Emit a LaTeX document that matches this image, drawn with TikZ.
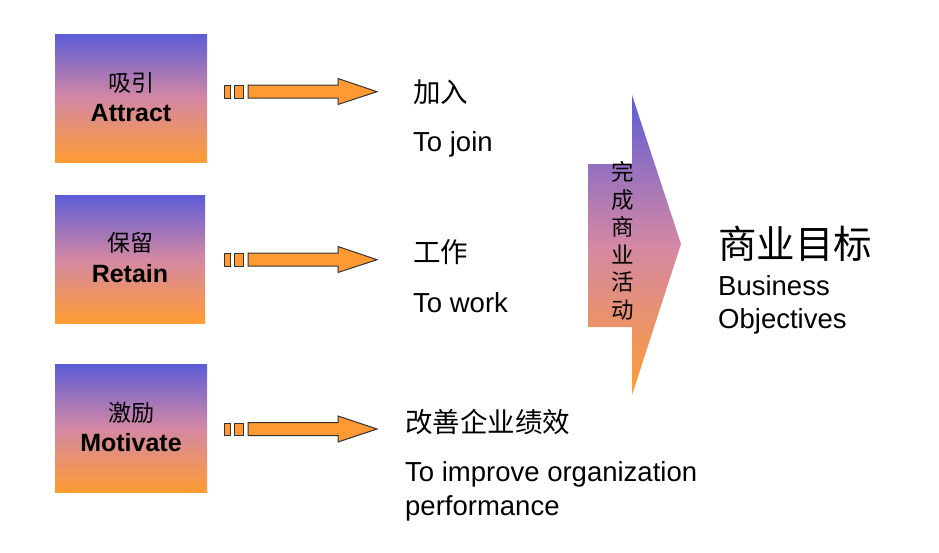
\documentclass[tikz,border=0pt]{standalone}
\usepackage{fontspec}
\setmainfont{Liberation Sans}
\newfontfamily\cjk{Noto Sans CJK SC}
\usepackage{tikz}

\definecolor{topblue}{RGB}{92,92,214}
\definecolor{midpink}{RGB}{212,136,164}
\definecolor{botorange}{RGB}{255,156,52}
\definecolor{arroworange}{RGB}{255,153,51}

\begin{document}
\begin{tikzpicture}[x=1pt, y=-1pt,
  gradbox/.style={minimum width=152pt, minimum height=128pt, inner sep=0,
    top color=topblue, bottom color=botorange, middle color=midpink},
  boxcjk/.style={font=\cjk\fontsize{23}{27}\selectfont, inner sep=0},
  boxword/.style={anchor=base, font=\bfseries\fontsize{25}{30}\selectfont, inner sep=0},
  cjktext/.style={anchor=west, font=\cjk\fontsize{27.5}{32}\selectfont, inner sep=0},
  entext/.style={anchor=base west, font=\fontsize{27.5}{32}\selectfont, inner sep=0},
  blockarrow/.style={fill=arroworange, draw=black!80, line width=1pt, line join=miter}]
\useasboundingbox (0,0) rectangle (939,552);

% boxes on the left
\node[gradbox] (attract) at (131,98) {};
\node[boxcjk] (attractcn) at (131,83) {吸引};
\node[boxword] (attracten) at (131,121.7) {Attract};

\node[gradbox, minimum width=150pt] (retain) at (130,259) {};
\node[boxcjk] (retaincn) at (130,243) {保留};
\node[boxword] (retainen) at (130,282.7) {Retain};

\node[gradbox] (motivate) at (131,428) {};
\node[boxcjk] (motivatecn) at (131,413) {激励};
\node[boxword] (motivateen) at (131,451.7) {Motivate};

% block arrows
\draw[blockarrow] (224,85.5) rectangle (230,98);
\draw[blockarrow] (234,85.5) rectangle (243,98);
\draw[blockarrow] (248,85) -- (338,85) -- (338,78.5) -- (377,91.7) -- (338,104.5) -- (338,98) -- (248,98) -- cycle;

\draw[blockarrow] (224,253.5) rectangle (230,266);
\draw[blockarrow] (234,253.5) rectangle (243,266);
\draw[blockarrow] (248,253) -- (338,253) -- (338,246.5) -- (377,259.7) -- (338,272.5) -- (338,266) -- (248,266) -- cycle;

\draw[blockarrow] (224,423) rectangle (230,435.5);
\draw[blockarrow] (234,423) rectangle (243,435.5);
\draw[blockarrow] (248,422.5) -- (338,422.5) -- (338,416) -- (377,429) -- (338,442) -- (338,435.5) -- (248,435.5) -- cycle;

% texts
\node[cjktext] (joincn) at (413,92) {加入};
\node[entext] (joinen) at (413,151.7) {To join};

\node[cjktext] (workcn) at (413,252) {工作};
\node[entext] (worken) at (413,312) {To work};

\node[cjktext] (improvecn) at (405,421.5) {改善企业绩效};
\node[entext] (improveen) at (405,481.7) {To improve organization};
\node[entext] (perfen) at (405,515) {performance};

% big arrow
\shade[top color=topblue, bottom color=botorange, middle color=midpink]
  (588,164) -- (632,164) -- (632,95) -- (681,244) -- (632,395) -- (632,327) -- (588,327) -- cycle;
\node[font=\cjk\fontsize{22.5}{27.5}\selectfont, align=center, inner sep=0] (activity) at (623,241) {完\\成\\商\\业\\活\\动};

\node[anchor=west, font=\cjk\fontsize{38.5}{44}\selectfont, inner sep=0] (goalcn) at (718,244) {商业目标};
\node[entext] (goalen1) at (718,295) {Business};
\node[entext] (goalen2) at (718,328) {Objectives};
\end{tikzpicture}
\end{document}
